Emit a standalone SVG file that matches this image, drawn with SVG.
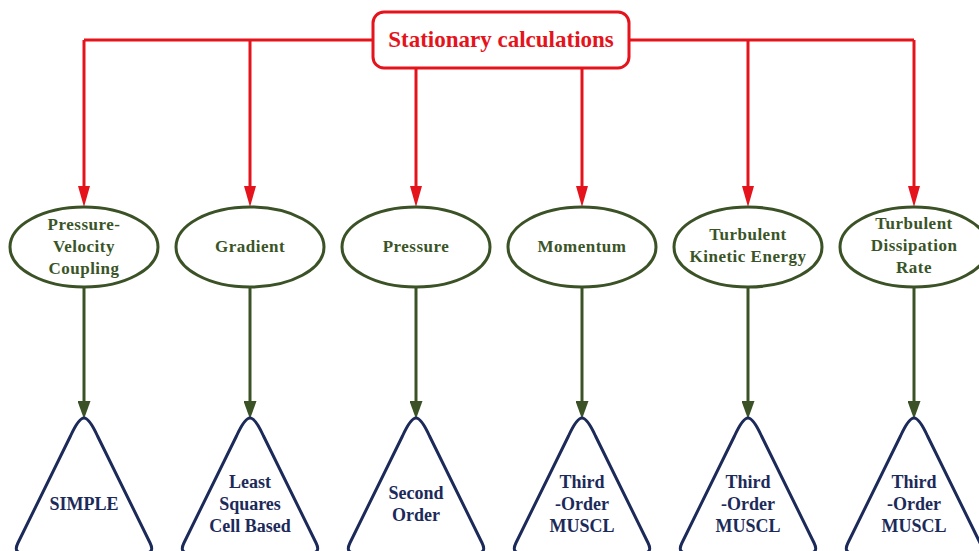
<svg xmlns="http://www.w3.org/2000/svg" width="979" height="551" viewBox="0 0 979 551">
<defs>
<style>
.red{stroke:#e5131b;stroke-width:3;fill:none}
.grn{stroke:#3b5226;stroke-width:3;fill:none}
.ell{stroke:#3b5226;stroke-width:3;fill:#fff}
.tri{stroke:#1c2a5a;stroke-width:3;fill:#fff;stroke-linejoin:round}
.title{font-family:"Liberation Serif","Times New Roman",serif;font-weight:bold;font-size:23px;fill:#e5131b;text-anchor:middle}
.et{font-family:"Liberation Serif","Times New Roman",serif;font-weight:bold;font-size:17px;letter-spacing:0.5px;fill:#3a5428;text-anchor:middle}
.tt{font-family:"Liberation Serif","Times New Roman",serif;font-weight:bold;font-size:18px;fill:#1c2a5a;text-anchor:middle}
</style>
<marker id="ra" markerUnits="userSpaceOnUse" markerWidth="22" markerHeight="12" refX="10" refY="6" orient="auto">
<path d="M0,0 L21,6 L0,12 z" fill="#e5131b"/>
</marker>
<marker id="ga" markerUnits="userSpaceOnUse" markerWidth="18" markerHeight="13" refX="8" refY="6.5" orient="auto">
<path d="M0,0 L18,6.5 L0,13 z" fill="#3b5226"/>
</marker>
<path id="tri" class="tri" d="M70.5,436 C76,424 80,418 84,418 C88,418 92,424 97.5,436 L150.1,543 Q155,553 145,553 L23,553 Q13,553 17.9,543 Z"/>
</defs>
<rect width="979" height="551" fill="#fff"/>

<g id="connectors">
<path class="red" d="M373,40 H84 M629,40 H914"/>
<line class="red" x1="84" y1="40" x2="84" y2="196" marker-end="url(#ra)"/>
<line class="red" x1="250" y1="40" x2="250" y2="196" marker-end="url(#ra)"/>
<line class="red" x1="416" y1="68" x2="416" y2="196" marker-end="url(#ra)"/>
<line class="red" x1="582" y1="68" x2="582" y2="196" marker-end="url(#ra)"/>
<line class="red" x1="748" y1="40" x2="748" y2="196" marker-end="url(#ra)"/>
<line class="red" x1="914" y1="40" x2="914" y2="196" marker-end="url(#ra)"/>
<line class="grn" x1="84" y1="287" x2="84" y2="409" marker-end="url(#ga)"/>
<line class="grn" x1="250" y1="287" x2="250" y2="409" marker-end="url(#ga)"/>
<line class="grn" x1="416" y1="287" x2="416" y2="409" marker-end="url(#ga)"/>
<line class="grn" x1="582" y1="287" x2="582" y2="409" marker-end="url(#ga)"/>
<line class="grn" x1="748" y1="287" x2="748" y2="409" marker-end="url(#ga)"/>
<line class="grn" x1="914" y1="287" x2="914" y2="409" marker-end="url(#ga)"/>
</g>

<g id="stationary">
<rect x="373" y="12" width="256" height="56" rx="11" ry="11" fill="#fff" stroke="#e5131b" stroke-width="3"/>
<text class="title" x="501" y="47">Stationary calculations</text>
</g>

<g id="pvc">
<ellipse class="ell" cx="84" cy="247" rx="74" ry="40"/>
<text class="et" x="84" y="230">Pressure-</text>
<text class="et" x="84" y="252">Velocity</text>
<text class="et" x="84" y="274">Coupling</text>
</g>
<g id="gradient">
<ellipse class="ell" cx="250" cy="247" rx="74" ry="40"/>
<text class="et" x="250" y="252">Gradient</text>
</g>
<g id="pressure">
<ellipse class="ell" cx="416" cy="247" rx="74" ry="40"/>
<text class="et" x="416" y="252">Pressure</text>
</g>
<g id="momentum">
<ellipse class="ell" cx="582" cy="247" rx="74" ry="40"/>
<text class="et" x="582" y="252">Momentum</text>
</g>
<g id="tke">
<ellipse class="ell" cx="748" cy="247" rx="74" ry="40"/>
<text class="et" x="748" y="240">Turbulent</text>
<text class="et" x="748" y="262">Kinetic Energy</text>
</g>
<g id="tdr">
<ellipse class="ell" cx="914" cy="247" rx="74" ry="40"/>
<text class="et" x="914" y="229">Turbulent</text>
<text class="et" x="914" y="251">Dissipation</text>
<text class="et" x="914" y="273">Rate</text>
</g>

<g id="simple">
<use href="#tri"/>
<text class="tt" x="84" y="510">SIMPLE</text>
</g>
<g id="lscb">
<use href="#tri" x="166"/>
<text class="tt" x="250" y="488">Least</text>
<text class="tt" x="250" y="510">Squares</text>
<text class="tt" x="250" y="532">Cell Based</text>
</g>
<g id="second">
<use href="#tri" x="332"/>
<text class="tt" x="416" y="499">Second</text>
<text class="tt" x="416" y="521">Order</text>
</g>
<g id="muscl1">
<use href="#tri" x="498"/>
<text class="tt" x="582" y="488">Third</text>
<text class="tt" x="582" y="510">-Order</text>
<text class="tt" x="582" y="532">MUSCL</text>
</g>
<g id="muscl2">
<use href="#tri" x="664"/>
<text class="tt" x="748" y="488">Third</text>
<text class="tt" x="748" y="510">-Order</text>
<text class="tt" x="748" y="532">MUSCL</text>
</g>
<g id="muscl3">
<use href="#tri" x="830"/>
<text class="tt" x="914" y="488">Third</text>
<text class="tt" x="914" y="510">-Order</text>
<text class="tt" x="914" y="532">MUSCL</text>
</g>
</svg>
